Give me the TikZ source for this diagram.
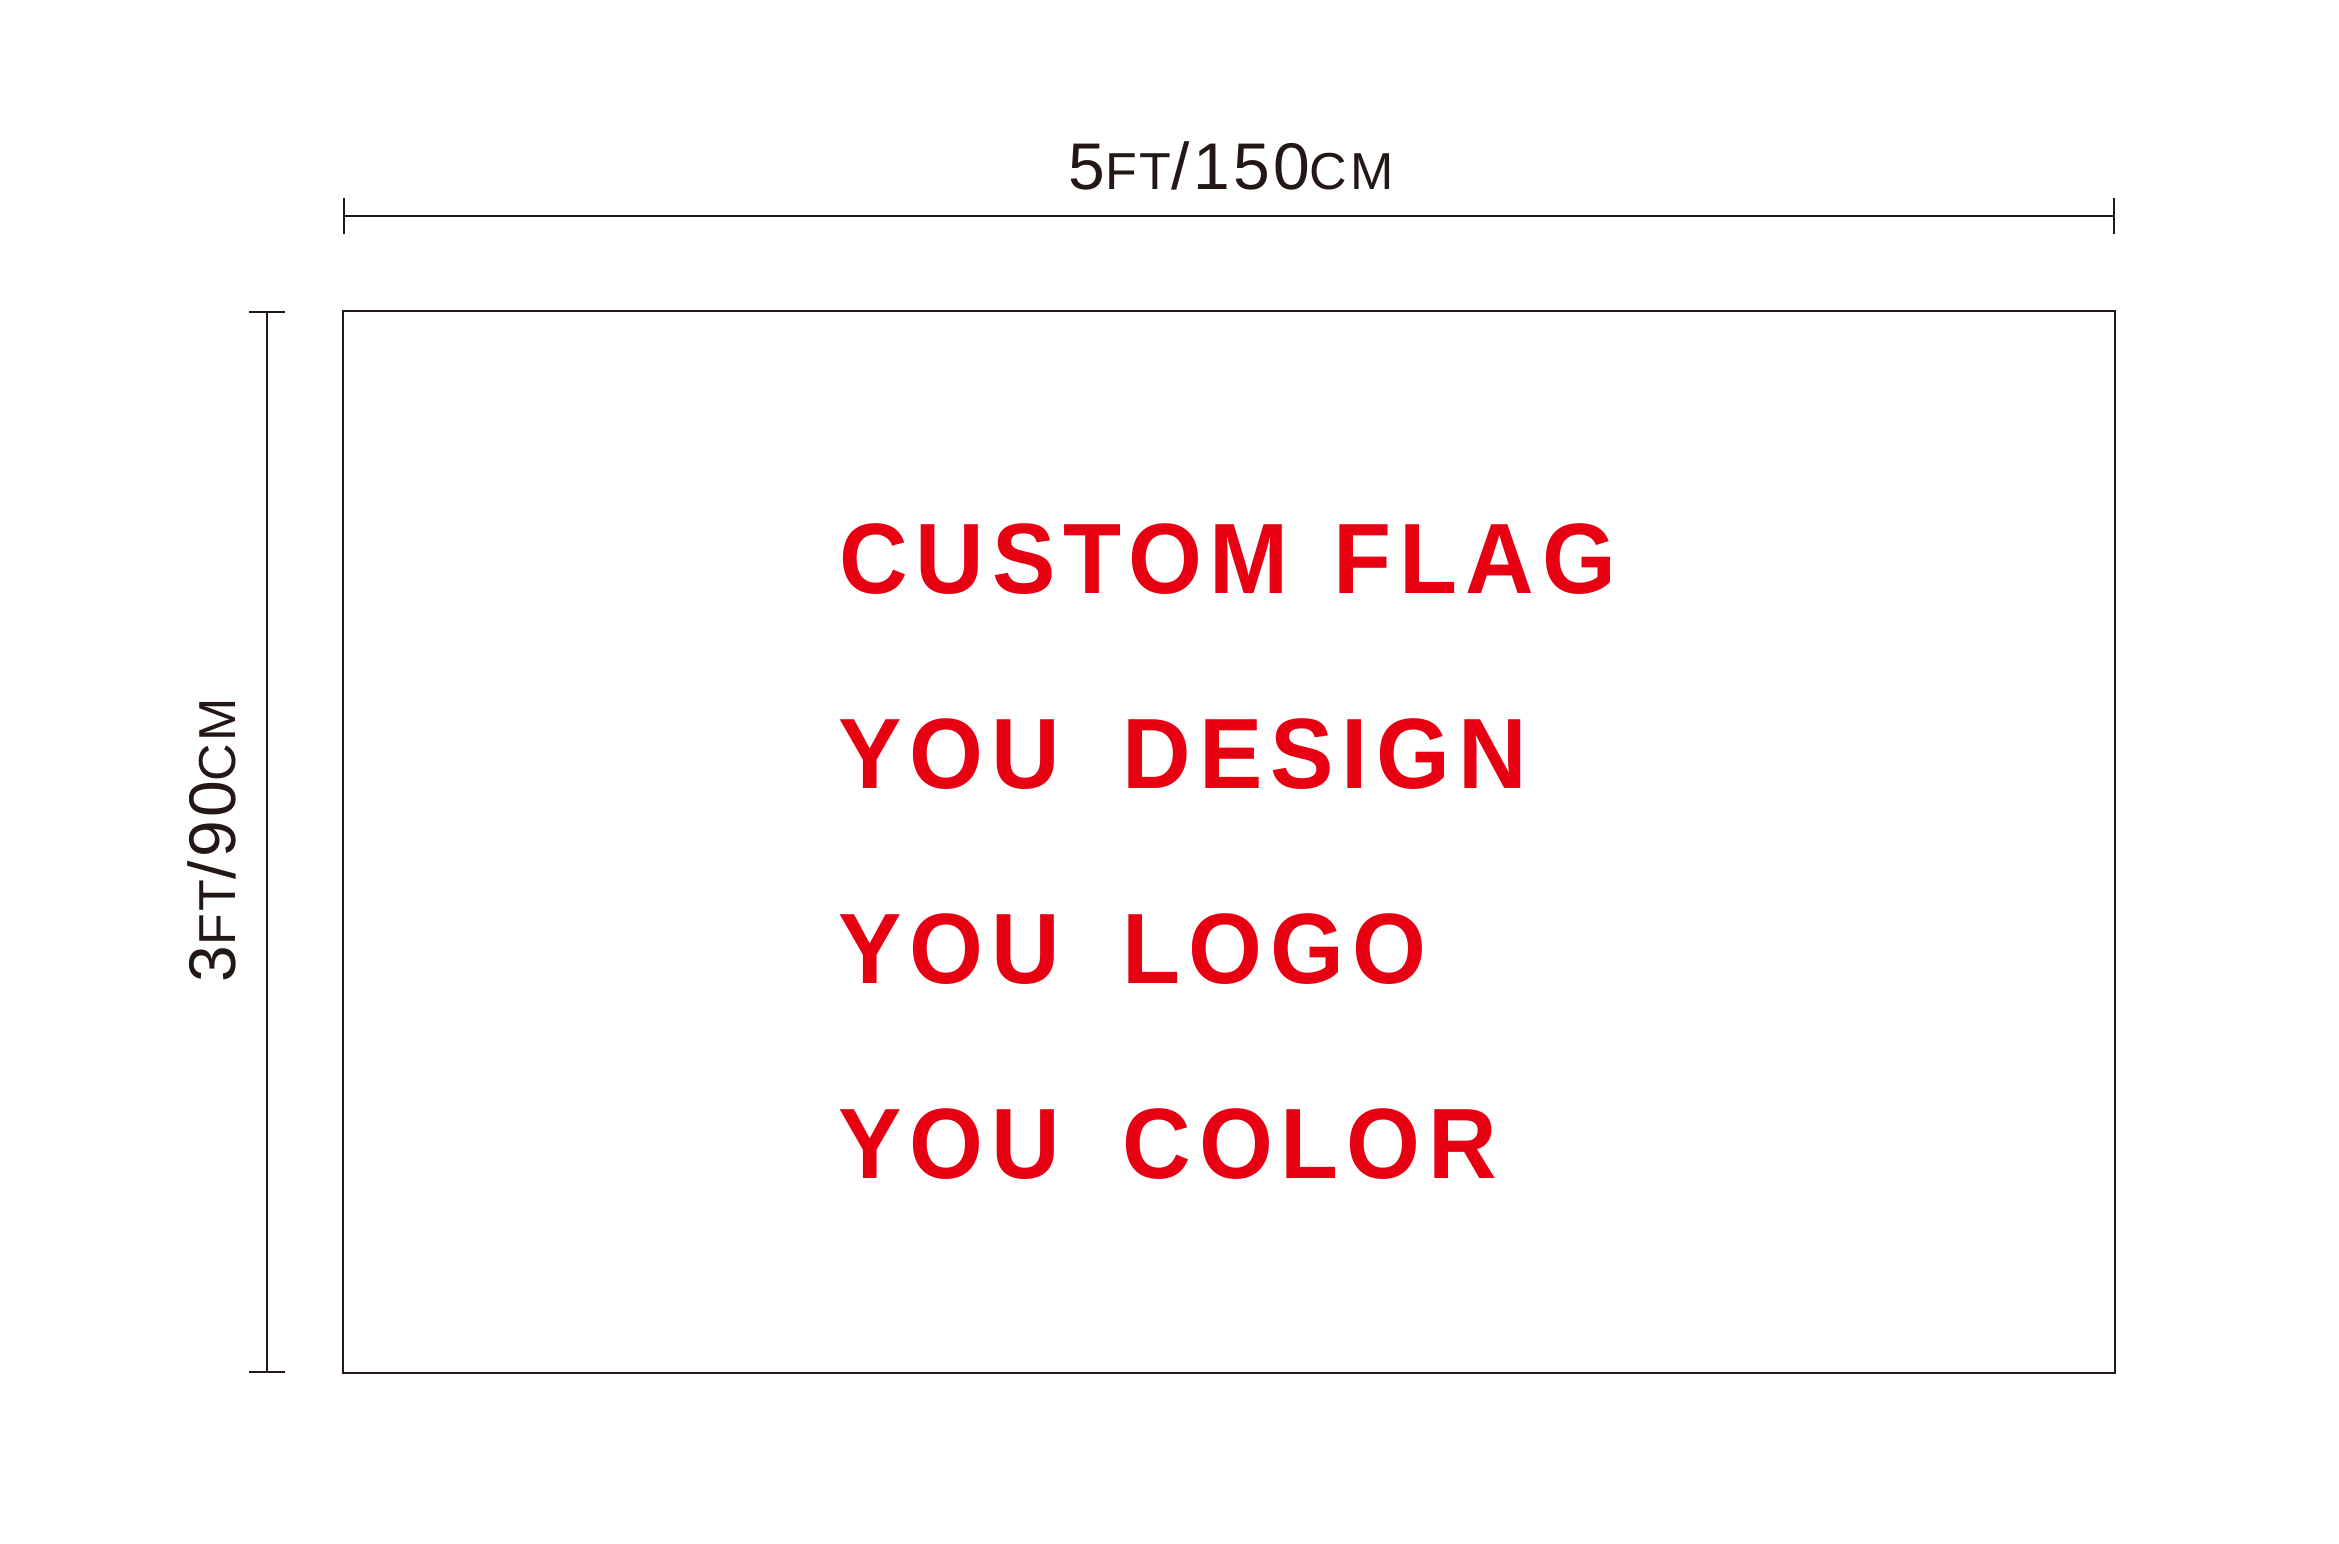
\documentclass[tikz,border=0pt]{standalone}
\usepackage{fontspec}
\setmainfont{Liberation Sans}
\newfontfamily\flagfont{Liberation Sans}[FakeStretch=0.95,LetterSpace=8]
\newfontfamily\sizefont{Liberation Sans}[LetterSpace=5]
\usetikzlibrary{arrows.meta}
\definecolor{flagred}{RGB}{230,0,18}
\definecolor{ink}{RGB}{35,24,21}
\tikzset{
  dimline/.style={draw=ink,line width=2pt,{Bar[width=36pt]}-{Bar[width=36pt]}},
  dimlabel/.style={text=ink,inner sep=0pt,anchor=base,font=\sizefont\fontsize{66}{66}\selectfont},
  flagline/.style={text=flagred,inner sep=0pt,anchor=base west,font=\flagfont\bfseries\fontsize{100}{100}\selectfont},
}
\newcommand\smc[1]{{\fontsize{52}{52}\selectfont #1}}

\begin{document}
\begin{tikzpicture}[x=1pt,y=-1pt]
        \useasboundingbox (0,0) rectangle (2339,1544);
        % the flag
        \node[draw=ink,line width=2pt,minimum width=1772pt,minimum height=1062pt,inner sep=0pt] (flag) at (1229,842) {};
        % dimensions
        \coordinate (wl) at (343,216);
        \coordinate (wr) at (2115,216);
        \coordinate (ht) at (267,311);
        \coordinate (hb) at (267,1373);
        \draw[dimline] (wl) -- (wr);
        \draw[dimline] (ht) -- (hb);
        \node[dimlabel] (width) at (1231,189) {5\smc{FT}/150\smc{CM}};
        \node[dimlabel,rotate=90] (height) at (235,840) {3\smc{FT}/90\smc{CM}};
        % text on the flag
        \node[flagline] (l1) at (839,593) {CUSTOM\hspace{10pt} FLAG};
        \node[flagline] (l2) at (838,788) {YOU\hspace{28pt} DESIGN};
        \node[flagline] (l3) at (838,983) {YOU\hspace{28pt} LOGO};
        \node[flagline] (l4) at (838,1178) {YOU\hspace{28pt} COLOR};
\end{tikzpicture}
\end{document}
